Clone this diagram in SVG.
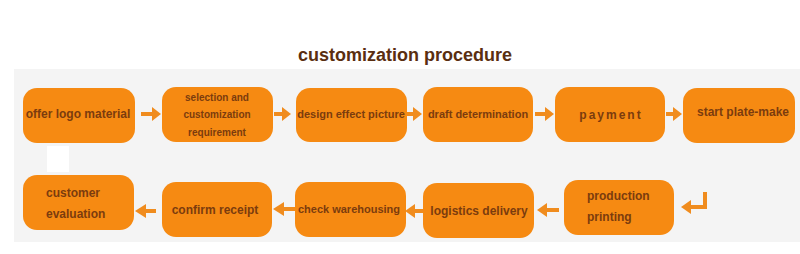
<svg xmlns="http://www.w3.org/2000/svg" width="800" height="254" viewBox="0 0 800 254">
<defs>
<style>
.box{fill:#f68a12;}
.t{font-family:"Liberation Sans",Arial,sans-serif;font-weight:bold;fill:#7b3c0e;font-size:12px;}
.m{font-size:11px;}
.s{font-size:10px;}
.c{text-anchor:middle;}
.ar{stroke:#f08c1e;stroke-width:4;fill:none;}
.ah{fill:#f08c1e;}
</style>
</defs>
<rect x="0" y="0" width="800" height="254" fill="#ffffff"/>
<rect x="14" y="69" width="786" height="173" fill="#f4f4f4"/>
<rect x="47" y="146" width="22" height="26" fill="#ffffff"/>
<text x="405" y="61" text-anchor="middle" font-family="Liberation Sans,Arial,sans-serif" font-weight="bold" font-size="18" fill="#5a2e10">customization procedure</text>

<g id="n1"><rect class="box" x="23" y="88" width="112" height="55" rx="14"/><text class="t c" x="78" y="118">offer logo material</text></g>
<g id="n2"><rect class="box" x="162" y="87" width="111" height="55" rx="14"/><text class="t s c" x="217" y="101">selection and</text><text class="t s c" x="217" y="118">customization</text><text class="t s c" x="217" y="136">requirement</text></g>
<g id="n3"><rect class="box" x="296" y="88" width="111" height="54" rx="14"/><text class="t m c" x="351" y="118">design effect picture</text></g>
<g id="n4"><rect class="box" x="423" y="87" width="110" height="55" rx="14"/><text class="t m c" x="478" y="118">draft determination</text></g>
<g id="n5"><rect class="box" x="555" y="87" width="110" height="55" rx="14"/><text class="t c" x="611" y="119" font-size="14" letter-spacing="2">payment</text></g>
<g id="n6"><rect class="box" x="683" y="88" width="112" height="55" rx="14"/><text class="t c" x="743" y="116">start plate-make</text></g>

<g id="n7"><rect class="box" x="23" y="175" width="111" height="55" rx="14"/><text class="t" x="46" y="197">customer</text><text class="t" x="46" y="218">evaluation</text></g>
<g id="n8"><rect class="box" x="162" y="182" width="110" height="55" rx="14"/><text class="t c" x="215" y="214">confirm receipt</text></g>
<g id="n9"><rect class="box" x="295" y="182" width="111" height="55" rx="14"/><text class="t m c" x="349" y="213">check warehousing</text></g>
<g id="n10"><rect class="box" x="423" y="183" width="111" height="55" rx="14"/><text class="t c" x="479" y="215">logistics delivery</text></g>
<g id="n11"><rect class="box" x="564" y="180" width="110" height="55" rx="14"/><text class="t" x="587" y="200">production</text><text class="t" x="587" y="221">printing</text></g>

<g id="connectors">
<line class="ar" x1="141" y1="114" x2="153" y2="114"/><polygon class="ah" points="152,107 161,114 152,121"/>
<line class="ar" x1="274" y1="114" x2="283" y2="114"/><polygon class="ah" points="282,107 291,114 282,121"/>
<line class="ar" x1="407" y1="114" x2="414" y2="114"/><polygon class="ah" points="413,107 422,114 413,121"/>
<line class="ar" x1="535" y1="114" x2="546" y2="114"/><polygon class="ah" points="545,107 554,114 545,121"/>
<line class="ar" x1="666" y1="114" x2="674" y2="114"/><polygon class="ah" points="673,107 682,114 673,121"/>
<path class="ar" d="M705,192 V207 H690"/><polygon class="ah" points="691,200 681,207 691,214"/>
<line class="ar" x1="559" y1="210" x2="546" y2="210"/><polygon class="ah" points="547,203 537,210 547,217"/>
<line class="ar" x1="423" y1="211" x2="414" y2="211"/><polygon class="ah" points="415,204 405,211 415,218"/>
<line class="ar" x1="295" y1="209" x2="283" y2="209"/><polygon class="ah" points="284,202 273,209 284,216"/>
<line class="ar" x1="156" y1="211" x2="145" y2="211"/><polygon class="ah" points="146,204 135,211 146,218"/>
</g>
</svg>
